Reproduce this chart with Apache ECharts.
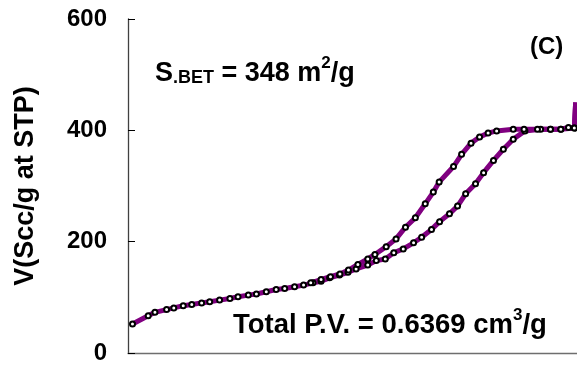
<!DOCTYPE html>
<html>
<head>
<meta charset="utf-8">
<script src="https://cdn.jsdelivr.net/npm/echarts@6/dist/echarts.min.js"></script>
<style>
  html, body { margin: 0; padding: 0; background: #fff; }
  #chart { width: 577px; height: 365px; }
</style>
</head>
<body>
<div id="chart"></div>
<script>
// N2 isotherm, sample (C): relative pressure P/P0 vs adsorbed volume
const adsP = [0.010,0.045,0.060,0.086,0.102,0.123,0.142,0.164,0.182,0.204,
              0.227,0.245,0.268,0.286,0.308,0.330,0.349,0.371,0.391,0.412,
              0.430,0.449,0.471,0.490,0.508,0.534,0.553,0.573,0.592,0.613,
              0.636,0.654,0.676,0.694,0.716,0.734,0.752,0.774,0.792,0.814,
              0.836,0.858,0.884,0.919,0.941,0.964,0.981,0.994,0.997];
const adsV = [52,67,73,78,81,85,87,90,92,95,
              98,101,104,106,110,114,116,119,122,126,
              129,135,140,145,151,158,166,169,180,187,
              198,208,222,236,250,264,286,304,324,346,
              366,384,399,402,402,402,405,404,450];

const desP = [0.997,0.994,0.964,0.941,0.912,0.882,0.858,0.821,0.802,0.783,
              0.764,0.743,0.725,0.693,0.680,0.662,0.640,0.618,0.597,0.575,
              0.550,0.534,0.512,0.491,0.472,0.451,0.430,0.407];
const desV = [450,404,402,402,402,402,402,399,395,388,
              377,357,335,307,289,268,243,226,205,191,
              177,169,159,149,142,137,132,126];

const yTicks = [0, 200, 400, 600];

const FONT = '"Liberation Sans", Arial, sans-serif';
const LINE_COLOR = '#800080';

// the turning point at saturation is drawn as line only
function pairs(xs, ys) {
  return xs.map((x, i) => (x >= 0.997 ? { value: [x, ys[i]], symbol: 'none' } : [x, ys[i]]));
}

function branch(name, xs, ys) {
  return {
    name: name,
    type: 'line',
    data: pairs(xs, ys),
    symbol: 'circle',
    symbolSize: 5,
    showAllSymbol: true,
    lineStyle: { color: LINE_COLOR, width: 5 },
    itemStyle: { color: '#ffffff', borderColor: '#000000', borderWidth: 2 },
    emphasis: { disabled: true },
    animation: false,
    z: 3
  };
}

const chart = echarts.init(document.getElementById('chart'), null, { renderer: 'canvas' });

chart.setOption({
  backgroundColor: '#ffffff',
  animation: false,
  grid: { left: 128, top: 19, width: 450, height: 339, containLabel: false },
  xAxis: {
    type: 'value', min: 0, max: 1,
    axisLine: { show: true, lineStyle: { color: '#6e6e6e', width: 1.3 } },
    axisTick: { show: false },
    axisLabel: { show: false },
    splitLine: { show: false }
  },
  yAxis: {
    type: 'value',
    min: yTicks[0], max: yTicks[yTicks.length - 1], interval: yTicks[1] - yTicks[0],
    name: 'V(Scc/g at STP)',
    nameLocation: 'middle',
    nameRotate: 90,
    nameGap: 89,
    nameTextStyle: { fontFamily: FONT, fontWeight: 'bold', fontSize: 27, color: '#000' },
    axisLine: { show: true, lineStyle: { color: '#404040', width: 1.3 } },
    axisTick: { show: true, inside: true, length: 7, lineStyle: { color: '#000', width: 1 } },
    axisLabel: { margin: 21, fontFamily: FONT, fontWeight: 'bold', fontSize: 24, color: '#000' },
    splitLine: { show: false }
  },
  series: [
    branch('Adsorption', adsP, adsV),
    branch('Desorption', desP, desV)
  ],
  graphic: [
    {
      type: 'text', left: 155, top: 55, silent: true,
      style: {
        text: '{m|S}{s|.BET}{m| = 348 m}{p|2}{m|/g}',
        rich: {
          m: { fontFamily: FONT, fontWeight: 'bold', fontSize: 27, lineHeight: 32, verticalAlign: 'bottom', fill: '#000' },
          s: { fontFamily: FONT, fontWeight: 'bold', fontSize: 18, lineHeight: 22, verticalAlign: 'bottom', fill: '#000' },
          p: { fontFamily: FONT, fontWeight: 'bold', fontSize: 17, lineHeight: 20, verticalAlign: 'top', fill: '#000' }
        }
      }
    },
    {
      type: 'text', left: 530, top: 35, silent: true,
      style: { text: '(C)', fontFamily: FONT, fontWeight: 'bold', fontSize: 24, fill: '#000' }
    },
    {
      type: 'text', left: 233, top: 307, silent: true,
      style: {
        text: '{m|Total P.V. = 0.6369 cm}{p|3}{m|/g}',
        rich: {
          m: { fontFamily: FONT, fontWeight: 'bold', fontSize: 27.5, lineHeight: 32, verticalAlign: 'bottom', fill: '#000' },
          p: { fontFamily: FONT, fontWeight: 'bold', fontSize: 17, lineHeight: 20, verticalAlign: 'top', fill: '#000' }
        }
      }
    }
  ]
});
</script>
</body>
</html>
